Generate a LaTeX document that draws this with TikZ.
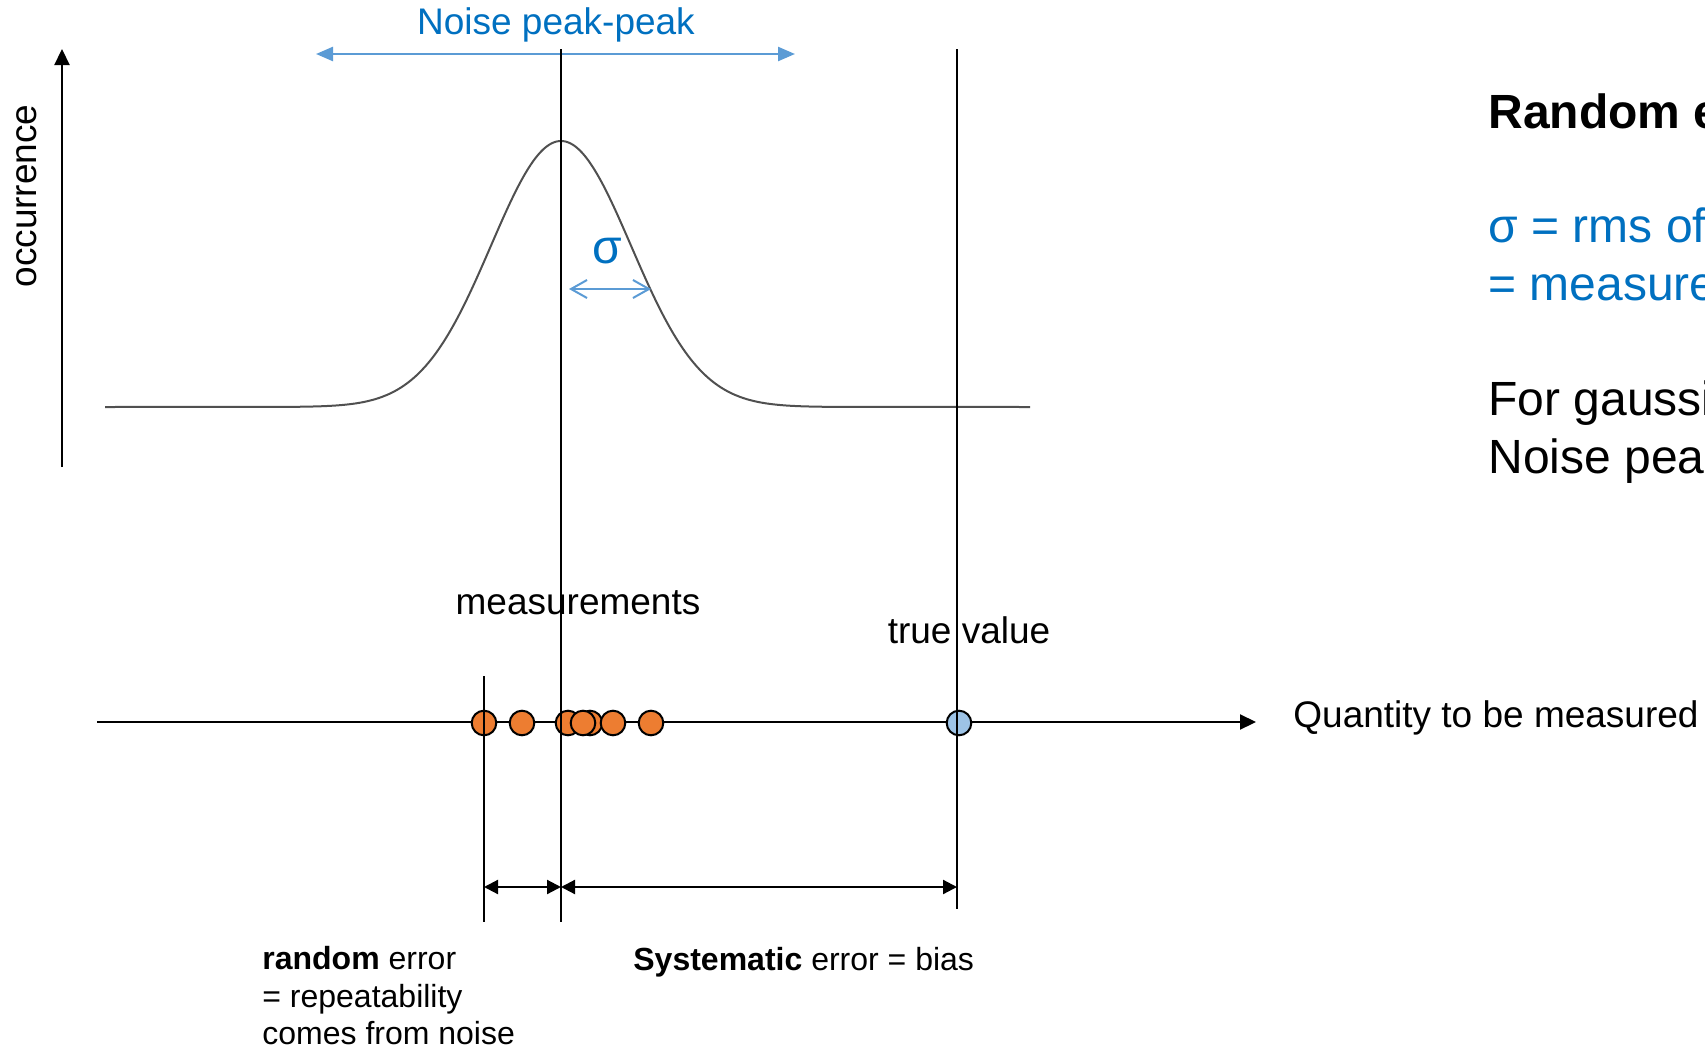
\documentclass[tikz,border=0pt]{standalone}
\usepackage{fontspec}
\setmainfont{Liberation Sans}
\usetikzlibrary{arrows.meta}
\definecolor{txtblue}{HTML}{0070C0}
\definecolor{arrblue}{HTML}{5B9BD5}
\definecolor{dotorange}{HTML}{ED7D31}
\definecolor{dotblue}{HTML}{9DC3E6}
\definecolor{curvegray}{HTML}{505050}
\begin{document}
\begin{tikzpicture}[x=0.5pt,y=-0.5pt,
  lbl/.style={font=\fontsize{18.5}{22}\selectfont, inner sep=0pt},
  smalllbl/.style={font=\fontsize{16}{19}\selectfont, inner sep=0pt, anchor=base west},
  bigtxt/.style={font=\fontsize{24}{29}\selectfont, inner sep=0pt, anchor=base west},
  odot/.style={circle, draw=black, line width=1pt, fill=dotorange, minimum size=12.3pt, inner sep=0pt},
  bdot/.style={odot, fill=dotblue},
  vline/.style={line width=0.55pt},
  axisarrow/.style={line width=1.1pt, -{Triangle[length=8pt,width=7.5pt]}},
  dimarrow/.style={line width=1.1pt, {Triangle[length=7pt,width=7pt]}-{Triangle[length=7pt,width=7pt]}},
  bluearrow/.style={arrblue, line width=1.2pt, {Triangle[length=8.5pt,width=7pt]}-{Triangle[length=8.5pt,width=7pt]}},
  sigarrow/.style={arrblue, line width=1pt, {Straight Barb[length=8pt,width=9pt]}-{Straight Barb[length=8pt,width=9pt]}}
]
\useasboundingbox (0,0) rectangle (1705,1050);
\clip (0,0) rectangle (1705,1050);

% gaussian
\draw[curvegray, line width=1pt] (105,407) -- plot[domain=-4:4, samples=121, smooth] ({561+70*(\x)},{407-266*exp(-0.5*(\x)*(\x))}) -- (1030,407);

% coordinates
\coordinate (vaB) at (62,467);
\coordinate (vaT) at (62,49);
\coordinate (haL) at (97,722);
\coordinate (haR) at (1256,722);
\coordinate (nppL) at (316,54);
\coordinate (nppR) at (795,54);
\coordinate (sgL) at (569,289);
\coordinate (sgR) at (651,289);
\coordinate (v1T) at (484,676);
\coordinate (v1B) at (484,922);
\coordinate (v2T) at (561,49);
\coordinate (v2B) at (561,922);
\coordinate (v3T) at (957,49);
\coordinate (v3B) at (957,909);
\coordinate (d1) at (484,887);
\coordinate (d2) at (561,887);
\coordinate (d3) at (957,887);

% axes
\draw[axisarrow] (vaB) -- (vaT);
\draw[axisarrow] (haL) -- (haR);

% blue arrows
\draw[bluearrow] (nppL) -- (nppR);
\draw[sigarrow] (sgL) -- (sgR);

% dots
\node[odot] (m1) at (484,723) {};
\node[odot] (m2) at (522,723) {};
\node[odot] (m3) at (568,723) {};
\node[odot] (m5) at (590,723) {};
\node[odot] (m4) at (583,723) {};
\node[odot] (m6) at (613,723) {};
\node[odot] (m7) at (651,723) {};
\node[bdot] (tvdot) at (959,723) {};

% vertical lines
\draw[vline] (v1T) -- (v1B);
\draw[vline] (v2T) -- (v2B);
\draw[vline] (v3T) -- (v3B);

% dimension arrows
\draw[dimarrow] (d1) -- (d2);
\draw[dimarrow] (d2) -- (d3);

% labels
\node[lbl, txtblue, anchor=base] (npp) at (556,34) {Noise peak-peak};
\node[lbl, rotate=90] (occ) at (27,196) {occurrence};
\node[font=\fontsize{24}{29}\selectfont, txtblue, anchor=base, inner sep=0pt] (sig) at (607,263) {σ};
\node[lbl, anchor=base] (meas) at (578,614) {measurements};
\node[lbl, anchor=base] (tv) at (969,643) {true value};
\node[lbl, anchor=base west] (qty) at (1293,727) {Quantity to be measured};

\node[smalllbl] (r1) at (262,969) {\textbf{random} error};
\node[smalllbl] (r2) at (262,1007) {= repeatability};
\node[smalllbl] (r3) at (262,1044) {comes from noise};
\node[smalllbl] (sys) at (633,970) {\textbf{Systematic} error = bias};

\node[bigtxt] (t1) at (1488,128) {\textbf{Random e}};
\node[bigtxt, txtblue] (t2) at (1488,242) {σ = rms of};
\node[bigtxt, txtblue] (t3) at (1488,300) {= measure};
\node[bigtxt] (t4) at (1488,415) {For gaussi};
\node[bigtxt] (t5) at (1488,473) {Noise pea};
\end{tikzpicture}
\end{document}
